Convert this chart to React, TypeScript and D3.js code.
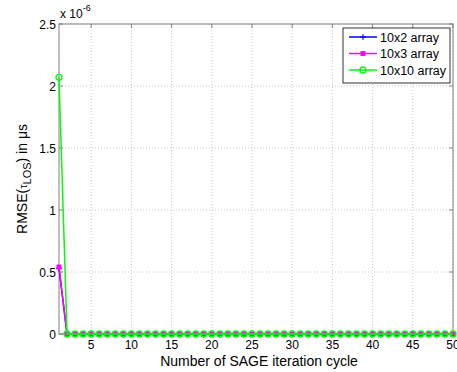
import React from "react";
import * as d3 from "d3";

// Iteration index 1..50
const iterations: number[] = Array.from({ length: 50 }, (_, i) => i + 1);
// RMSE values in units of 1e-6
const rmse10x2: number[] = [0.53, ...Array(49).fill(0)];
const rmse10x3: number[] = [0.54, ...Array(49).fill(0)];
const rmse10x10: number[] = [2.07, ...Array(49).fill(0)];
const xTicks: number[] = [5, 10, 15, 20, 25, 30, 35, 40, 45, 50];
const yTicks: number[] = [0, 0.5, 1, 1.5, 2, 2.5];
const seriesNames: string[] = ["10x2 array", "10x3 array", "10x10 array"];
const seriesColors: string[] = ["#0000ff", "#ff00ff", "#00ff00"];

const W = 457;
const H = 372;
const M = { left: 59, right: 4, top: 24, bottom: 38 };

export default function App() {
  const x = d3.scaleLinear().domain([1, 50]).range([M.left, W - M.right]);
  const y = d3.scaleLinear().domain([0, 2.5]).range([H - M.bottom, M.top]);
  const line = d3
    .line<number>()
    .x((_, i) => x(iterations[i]))
    .y((d) => y(d));
  const series = [rmse10x2, rmse10x3, rmse10x10];
  const font = "'Liberation Sans', Arial, sans-serif";
  const x0 = M.left, x1 = W - M.right, y0 = H - M.bottom, y1 = M.top;

  const marker = (k: number, cx: number, cy: number, key: string) => {
    const c = seriesColors[k];
    if (k === 0)
      return (
        <g key={key} stroke={c} strokeWidth={1}>
          <line x1={cx - 3} x2={cx + 3} y1={cy} y2={cy} />
          <line x1={cx} x2={cx} y1={cy - 3} y2={cy + 3} />
        </g>
      );
    if (k === 1)
      return <rect key={key} x={cx - 2.5} y={cy - 2.5} width={5} height={5} fill={c} />;
    return <circle key={key} cx={cx} cy={cy} r={3} fill="none" stroke={c} strokeWidth={1.3} />;
  };

  return (
    <svg width={W} height={H} style={{ position: "absolute", left: 0, top: 0, background: "#fff" }} fontFamily={font}>
      {/* grid */}
      <g stroke="#c8c8c8" strokeDasharray="1,2" strokeWidth={1}>
        {xTicks.map((t) => (
          <line key={"gx" + t} x1={x(t)} x2={x(t)} y1={y0} y2={y1} />
        ))}
        {yTicks.map((t) => (
          <line key={"gy" + t} x1={x0} x2={x1} y1={y(t)} y2={y(t)} />
        ))}
      </g>
      {/* frame */}
      <rect x={x0} y={y1} width={x1 - x0} height={y0 - y1} fill="none" stroke="#808080" strokeWidth={1} />
      {/* ticks */}
      <g stroke="#808080">
        {xTicks.map((t) => (
          <g key={"tx" + t}>
            <line x1={x(t)} x2={x(t)} y1={y0} y2={y0 - 4} />
            <line x1={x(t)} x2={x(t)} y1={y1} y2={y1 + 4} />
          </g>
        ))}
        {yTicks.map((t) => (
          <g key={"ty" + t}>
            <line x1={x0} x2={x0 + 4} y1={y(t)} y2={y(t)} />
            <line x1={x1} x2={x1 - 4} y1={y(t)} y2={y(t)} />
          </g>
        ))}
      </g>
      {/* tick labels */}
      <g fontSize={12} fill="#000">
        {xTicks.map((t) => (
          <text key={"lx" + t} x={x(t)} y={y0 + 14.5} textAnchor="middle">
            {t}
          </text>
        ))}
        {yTicks.map((t) => (
          <text key={"ly" + t} x={x0 - 3} y={y(t) + 4.5} textAnchor="end">
            {t}
          </text>
        ))}
      </g>
      {/* exponent */}
      <text x={x0 + 1} y={y1 - 6} fontSize={12}>
        x 10
        <tspan dy={-7} fontSize={9}>-6</tspan>
      </text>
      {/* series */}
      {series.map((s, k) => (
        <g key={"s" + k}>
          <path d={line(s) || ""} fill="none" stroke={seriesColors[k]} strokeWidth={1.5} />
          {s.map((v, i) => marker(k, x(iterations[i]), y(v), `m${k}-${i}`))}
        </g>
      ))}
      {/* axis titles */}
      <text x={(x0 + x1) / 2 + 3} y={H - 6} textAnchor="middle" fontSize={14}>
        Number of SAGE iteration cycle
      </text>
      <text transform={`translate(27,${(y0 + y1) / 2}) rotate(-90)`} textAnchor="middle" fontSize={14}>
        RMSE(
        <tspan fontSize={11}>τ</tspan>
        <tspan dy={4} fontSize={11}>LOS</tspan>
        <tspan dy={-4}>) in μs</tspan>
      </text>
      {/* legend */}
      <g>
        <rect x={343} y={28} width={107} height={55} fill="#fff" stroke="#000" strokeWidth={0.8} />
        {seriesNames.map((n, k) => {
          const ly = 37 + k * 16.5;
          return (
            <g key={"lg" + k}>
              <line x1={349} x2={377} y1={ly} y2={ly} stroke={seriesColors[k]} strokeWidth={1.5} />
              {marker(k, 363, ly, "lm" + k)}
              <text x={380} y={ly + 4.5} fontSize={12.5}>
                {n}
              </text>
            </g>
          );
        })}
      </g>
    </svg>
  );
}
